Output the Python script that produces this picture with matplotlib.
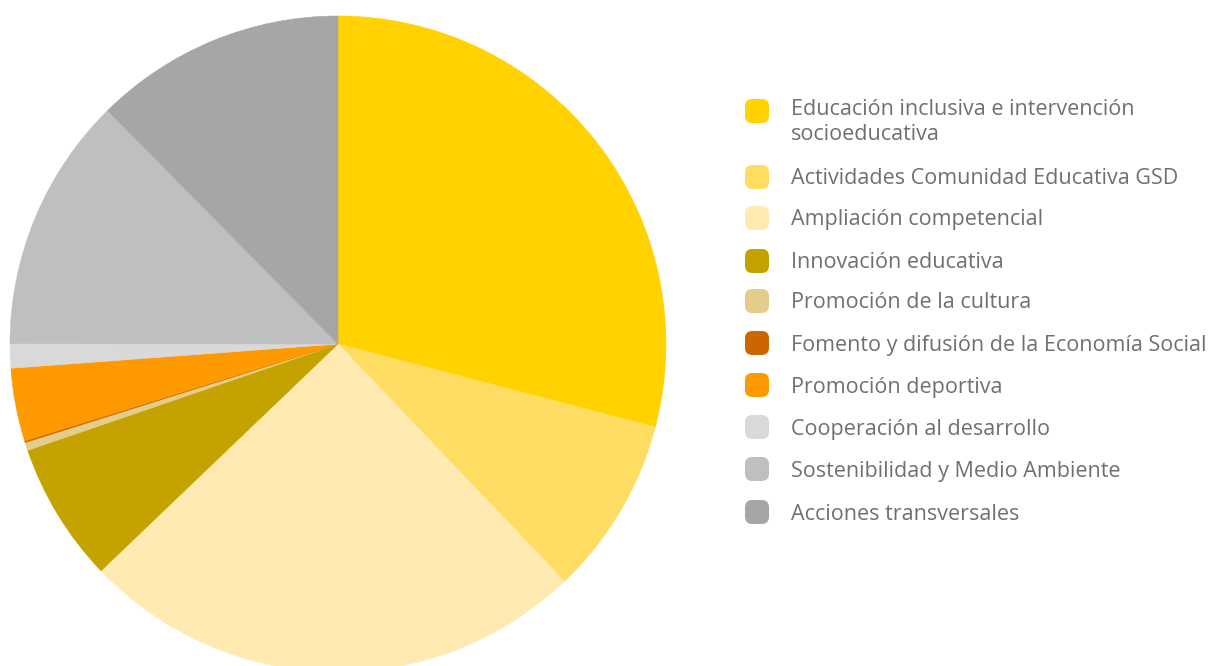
import matplotlib.pyplot as plt
from matplotlib.patches import FancyBboxPatch

# shares of each area (percent)
labels = [
    "Educación inclusiva e intervención\nsocioeducativa",
    "Actividades Comunidad Educativa GSD",
    "Ampliación competencial",
    "Innovación educativa",
    "Promoción de la cultura",
    "Fomento y difusión de la Economía Social",
    "Promoción deportiva",
    "Cooperación al desarrollo",
    "Sostenibilidad y Medio Ambiente",
    "Acciones transversales",
]
values = [29.1, 8.8, 25.0, 6.9, 0.4, 0.08, 3.6, 1.2, 12.6, 12.4]
colors = ["#FFD200", "#FFDD63", "#FFEBB2", "#C4A200", "#E4CD8A",
          "#CC6600", "#FF9900", "#D9D9D9", "#BFBFBF", "#A6A6A6"]

W, H = 1211, 666
fig = plt.figure(figsize=(W / 100, H / 100), dpi=100)

# pie axes: centre ~ (338, 344) px, radius ~ 328 px
cx, cy, r = 338, 344, 328
ax = fig.add_axes([(cx - r) / W, (H - cy - r) / H, 2 * r / W, 2 * r / H])
ax.pie(values, colors=colors, startangle=90, counterclock=False, radius=1,
       wedgeprops=dict(linewidth=0.4))
for w, c in zip(ax.patches, colors):
    w.set_edgecolor(c)
ax.set_xlim(-1, 1)
ax.set_ylim(-1, 1)
ax.set_axis_off()

# legend, drawn by hand to get the rounded swatches
rows_y = [111, 177, 218, 261, 301, 343, 385, 427, 469, 512]
sq = 24
for lab, col, y in zip(labels, colors, rows_y):
    box = FancyBboxPatch((745 / W, (H - y - sq / 2) / H), sq / W, sq / H,
                         boxstyle="round,pad=0,rounding_size=0.006",
                         transform=fig.transFigure, facecolor=col,
                         edgecolor="none", mutation_aspect=W / H)
    fig.patches.append(box)
    if "\n" in lab:
        fig.text(791 / W, (H - y + 12) / H, lab, ha="left", va="top",
                 fontsize=15.5, color="#707070", family="Open Sans",
                 linespacing=1.28)
    else:
        fig.text(791 / W, (H - y - 2) / H, lab, ha="left", va="center",
                 fontsize=15.5, color="#707070", family="Open Sans")

fig.savefig("out.png", dpi=100)
